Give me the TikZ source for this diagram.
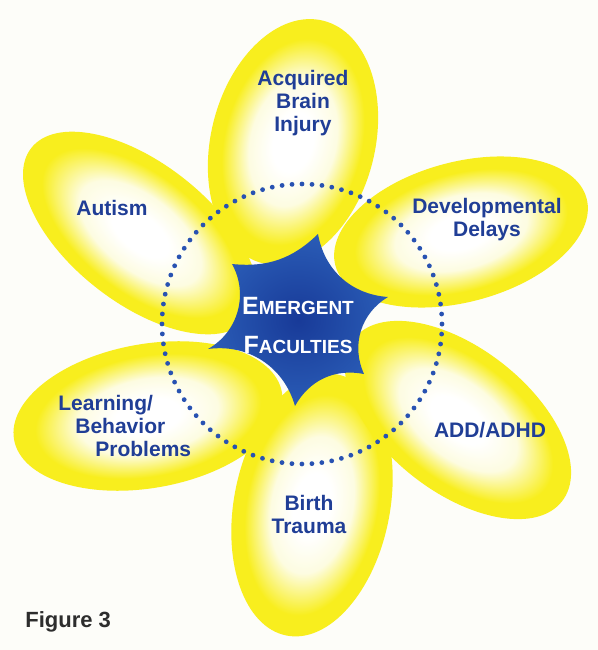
\documentclass[tikz,border=0pt]{standalone}
\usepackage{fontspec}
\setmainfont{Liberation Sans}
\definecolor{PetalYellow}{RGB}{248,238,30}
\definecolor{PetalCream}{RGB}{253,252,225}
\definecolor{StarBlue}{RGB}{42,92,182}
\definecolor{StarDeep}{RGB}{24,58,152}
\definecolor{LabelBlue}{RGB}{32,62,150}
\definecolor{DotBlue}{RGB}{40,82,178}
\definecolor{PaperWhite}{RGB}{253,253,249}
\definecolor{CaptionGray}{RGB}{45,45,45}
\pgfdeclareradialshading{petalglow}{\pgfpoint{0bp}{0bp}}{color(0bp)=(white); color(6bp)=(white); color(13bp)=(PetalCream); color(21bp)=(PetalYellow); color(50bp)=(PetalYellow)}
\newcommand{\capsword}[2]{{\fontsize{12.5}{12.5}\selectfont #1}{\fontsize{9.5}{9.5}\selectfont #2}}
\tikzset{
  petallabel/.style={text=LabelBlue,font=\bfseries\fontsize{10.5}{11.5}\selectfont,align=center,inner sep=0pt},
  centrelabel/.style={text=white,font=\bfseries\fontsize{9.5}{19.5}\selectfont,align=center,inner sep=0pt}
}

\begin{document}
\begin{tikzpicture}[x=0.5pt,y=0.5pt]
            \fill[PaperWhite] (0,0) rectangle (598,650);
            \useasboundingbox (0,0) rectangle (598,650);
            \shade[shading=petalglow,transform canvas={shift={(140,417)},rotate=142}] (0,0) ellipse (69pt and 35pt);
            \shade[shading=petalglow,transform canvas={shift={(148,234)},rotate=190}] (0,0) ellipse (68pt and 36pt);
            \shade[shading=petalglow,transform canvas={shift={(312,145)},rotate=259}] (0,0) ellipse (66.5pt and 39pt);
            \shade[shading=petalglow,transform canvas={shift={(458,230)},rotate=-38}] (0,0) ellipse (66pt and 36pt);
            \shade[shading=petalglow,transform canvas={shift={(461,418)},rotate=15}] (0,0) ellipse (65pt and 35pt);
            \shade[shading=petalglow,transform canvas={shift={(293,508)},rotate=76}] (0,0) ellipse (62.5pt and 41pt);
            \coordinate (T) at (318,416);
            \coordinate (R) at (388,353);
            \coordinate (LR) at (364,276);
            \coordinate (B) at (295,244);
            \coordinate (L) at (208,301);
            \coordinate (UL) at (232,386);
            \shade[inner color=StarDeep,outer color=StarBlue] (T) to[bend right=38] (R) to[bend right=42] (LR)
              to[bend right=36] (B) to[bend right=41] (L) to[bend right=45] (UL) to[bend right=25] (T) -- cycle;
            \coordinate (C) at (302,326);
            \draw[DotBlue,line width=2.4pt,line cap=round,dash pattern=on 0pt off 4.998pt] (C) circle[radius=70pt];
            \node[centrelabel] (emergent) at (298,325) {\capsword{E}{MERGENT}\\\capsword{F}{ACULTIES}};
            \node[petallabel] (acquired) at (303,547) {Acquired\\Brain\\Injury};
            \node[petallabel] (autism) at (112,442) {Autism};
            \node[petallabel] (delays) at (487,430) {Developmental\\Delays};
            \node[petallabel,anchor=west,align=left] (learning) at (58,224) {Learning/\\\hspace*{8.5pt}Behavior\\\hspace*{18.5pt}Problems};
            \node[petallabel] (adhd) at (490,220) {ADD/ADHD};
            \node[petallabel] (birth) at (309,136) {Birth\\Trauma};
            \node[text=CaptionGray,font=\bfseries\fontsize{11}{13}\selectfont,anchor=west,inner sep=0pt] (caption) at (25,28) {Figure 3};
        \end{tikzpicture}
\end{document}
